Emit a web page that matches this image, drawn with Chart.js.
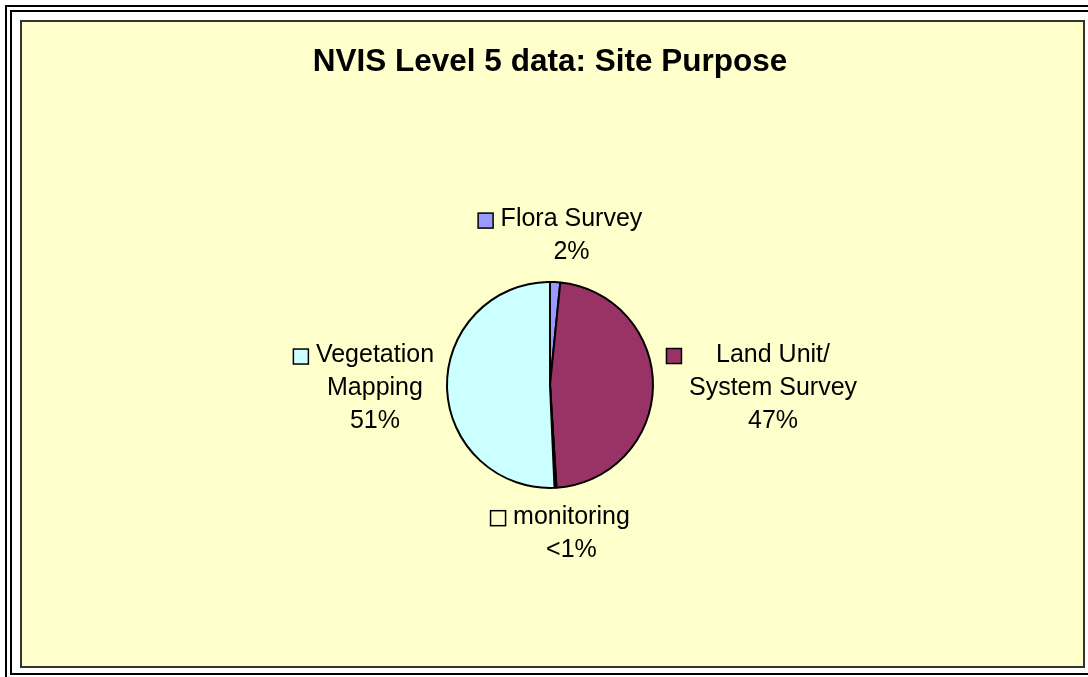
<!DOCTYPE html>
<html><head><meta charset="utf-8">
<script src="https://cdn.jsdelivr.net/npm/chart.js@4"></script>
<style>
html,body{margin:0;padding:0;background:#fff;overflow:hidden;width:1088px;height:677px;}
#f1{position:absolute;left:5px;top:5px;width:1200px;height:800px;border:2px solid #000;}
#f2{position:absolute;left:10px;top:10px;width:1200px;height:661px;border:2px solid #000;border-right:none;}
#plot{position:absolute;left:20px;top:20px;width:1061px;height:644px;border:2px solid #333;background:#FFFFCC;}
canvas{position:absolute;left:0;top:0;}
</style>
</head><body>
<div id="f1"></div><div id="f2"></div><div id="plot"></div>
<canvas id="c" width="1088" height="677"></canvas>
<script>
const titleText = 'NVIS Level 5 data: Site Purpose';
const categories = ['Flora Survey', 'Land Unit/\nSystem Survey', 'monitoring', 'Vegetation\nMapping'];
const percentValues = [1.6, 47.4, 0.3, 50.7];
const sliceColors = ['#9999FF', '#993366', '#FFFFCC', '#CCFFFF'];

Chart.defaults.font.family = "'Liberation Sans', Arial, sans-serif";

function pctLabel(v) { return v < 1 ? '<1%' : Math.round(v) + '%'; }

const labelPlugin = {
  id: 'excelLabels',
  afterDatasetsDraw(chart) {
    const ctx = chart.ctx;
    const meta = chart.getDatasetMeta(0);
    const ds = chart.data.datasets[0];
    const fontSize = 25, lineH = 33, box = 16, boxGap = 7, gap = 13;
    ctx.save();
    ctx.font = fontSize + "px 'Liberation Sans', Arial, sans-serif";
    ctx.textAlign = 'center';
    ctx.textBaseline = 'middle';
    meta.data.forEach((arc, i) => {
      const p = arc.getProps(['x', 'y', 'startAngle', 'endAngle', 'outerRadius'], true);
      const a = (p.startAngle + p.endAngle) / 2;
      const cx = p.x + (p.outerRadius + gap) * Math.cos(a);
      const cy = p.y + (p.outerRadius + gap) * Math.sin(a);
      const lines = chart.data.labels[i].split('\n').concat([pctLabel(ds.data[i])]);
      const textW = Math.max(...lines.map(l => ctx.measureText(l).width));
      const W = box + boxGap + textW;
      const H = lines.length * lineH;
      const ax = (1 - Math.cos(a)) / 2;
      const ay = (1 - Math.sin(a)) / 2;
      const left = cx - ax * W;
      const top = cy - ay * H;
      const tx = left + box + boxGap + textW / 2;
      ctx.fillStyle = '#000';
      lines.forEach((l, k) => ctx.fillText(l, tx, top + lineH * (k + 0.5)));
      const by = top + lineH / 2 - box / 2 + 1;
      ctx.fillStyle = ds.backgroundColor[i];
      ctx.fillRect(left + 0.5, by + 0.5, box - 1, box - 1);
      ctx.strokeStyle = '#000';
      ctx.lineWidth = 1.5;
      ctx.strokeRect(left + 0.5, by + 0.5, box - 1, box - 1);
    });
    ctx.restore();
  }
};

new Chart(document.getElementById('c'), {
  type: 'pie',
  data: {
    labels: categories,
    datasets: [{
      data: percentValues,
      backgroundColor: sliceColors,
      borderColor: '#000',
      borderWidth: 2,
      radius: 103,
      hoverOffset: 0
    }]
  },
  options: {
    responsive: false,
    animation: false,
    events: [],
    layout: { padding: { left: 12, right: 0, top: 0, bottom: 0 } },
    plugins: {
      legend: { display: false },
      tooltip: { enabled: false },
      title: {
        display: true,
        text: titleText,
        color: '#000',
        font: { size: 31.5, weight: 'bold', lineHeight: 1.2 },
        padding: { top: 43, bottom: 12 }
      }
    }
  },
  plugins: [labelPlugin]
});
</script>
</body></html>
